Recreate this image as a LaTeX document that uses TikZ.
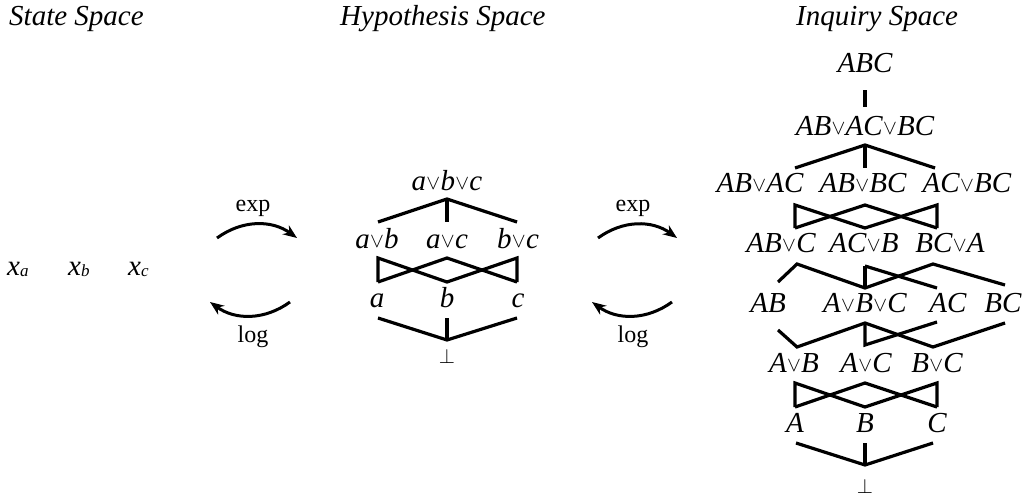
\documentclass[tikz,border=0pt]{standalone}
\usepackage{fontspec}
\setmainfont{Liberation Serif}
\usetikzlibrary{arrows.meta}
\newcommand{\orr}{\kern0.3pt\raisebox{0.5pt}{\fontsize{22}{22}\selectfont$\vee$}\kern0.3pt}
\newcommand{\subl}[1]{\raisebox{-1pt}{\fontsize{17}{17}\selectfont\itshape #1}}
\newcommand{\botel}{{\fontsize{22}{22}\selectfont$\bot$}}

\begin{document}
\begin{tikzpicture}[x=1pt,y=-1pt,>={Stealth[length=14pt,width=11pt]},
  title/.style={anchor=base west,font=\fontsize{29}{34}\selectfont\itshape,inner sep=0pt},
  lbl/.style={anchor=base,font=\fontsize{29}{34}\selectfont\itshape,inner sep=0pt},
  op/.style={anchor=base,font=\fontsize{24}{28}\selectfont,inner sep=0pt},
  lnk/.style={line width=3.2pt,line join=miter},
  arr/.style={line width=3pt,->}]
\useasboundingbox (0,0) rectangle (1028,498);

% titles
\node[title] (tstate) at (9,25) {State Space};
\node[title] (thyp) at (340,25) {Hypothesis Space};
\node[title] (tinq) at (796,25) {Inquiry Space};

% state space
\node[title] (xa) at (7,275) {x\subl{a}};
\node[title] (xb) at (68,275) {x\subl{b}};
\node[title] (xc) at (128,275) {x\subl{c}};

% exp / log arrows
\coordinate (le1) at (217,238); \coordinate (le2) at (297,238);
\coordinate (ll1) at (290,302); \coordinate (ll2) at (210,302);
\coordinate (re1) at (598,238); \coordinate (re2) at (677,238);
\coordinate (rl1) at (672,302); \coordinate (rl2) at (592,302);
\node[op] (lexp) at (253,211) {exp};
\node[op] (llog) at (253,342) {log};
\node[op] (rexp) at (633,211) {exp};
\node[op] (rlog) at (633,342) {log};
\draw[arr] (le1) to[bend left=36] (le2);
\draw[arr] (ll1) to[bend left=36] (ll2);
\draw[arr] (re1) to[bend left=36] (re2);
\draw[arr] (rl1) to[bend left=36] (rl2);

% hypothesis space
\node[lbl] (habc) at (447,190) {a\orr b\orr c};
\node[lbl] (hab) at (377,248) {a\orr b};
\node[lbl] (hac) at (447,248) {a\orr c};
\node[lbl] (hbc) at (518,248) {b\orr c};
\node[lbl] (ha) at (377,307) {a};
\node[lbl] (hb) at (447,307) {b};
\node[lbl] (hc) at (518,307) {c};
\node[lbl] (hbot) at (447,363) {\botel};
\coordinate (habc-b) at (447,199);
\coordinate (hab-t) at (378,222); \coordinate (hac-t) at (447,222); \coordinate (hbc-t) at (517,222);
\coordinate (hab-b) at (378,258); \coordinate (hac-b) at (447,258); \coordinate (hbc-b) at (517,258);
\coordinate (ha-t) at (378,282); \coordinate (hb-t) at (447,282); \coordinate (hc-t) at (517,282);
\coordinate (ha-b) at (378,318); \coordinate (hb-b) at (447,318); \coordinate (hc-b) at (517,318);
\coordinate (hbot-t) at (447,340);
\draw[lnk] (hab-t)--(habc-b)--(hbc-t); \draw[lnk] (habc-b)--(hac-t);
\draw[lnk] (ha-t)--(hab-b)--(hb-t)--(hbc-b)--(hc-t); \draw[lnk] (ha-t)--(hac-b)--(hc-t);
\draw[lnk] (ha-b)--(hbot-t)--(hc-b); \draw[lnk] (hb-b)--(hbot-t);

% inquiry space
\node[lbl] (iABC) at (865,72) {ABC};
\node[lbl] (i1) at (865,135) {AB\orr AC\orr BC};
\node[lbl] (i2a) at (760,192) {AB\orr AC};
\node[lbl] (i2b) at (863,192) {AB\orr BC};
\node[lbl] (i2c) at (967,192) {AC\orr BC};
\node[lbl] (i3a) at (781,252) {AB\orr C};
\node[lbl] (i3b) at (864,252) {AC\orr B};
\node[lbl] (i3c) at (950,252) {BC\orr A};
\node[lbl] (i4a) at (768,312) {AB};
\node[lbl] (i4b) at (865,312) {A\orr B\orr C};
\node[lbl] (i4c) at (948,312) {AC};
\node[lbl] (i4d) at (1003,312) {BC};
\node[lbl] (i5a) at (794,372) {A\orr B};
\node[lbl] (i5b) at (866,372) {A\orr C};
\node[lbl] (i5c) at (937,372) {B\orr C};
\node[lbl] (i6a) at (795,432) {A};
\node[lbl] (i6b) at (865,432) {B};
\node[lbl] (i6c) at (937,432) {C};
\node[lbl] (ibot) at (865,493) {\botel};
\coordinate (iABC-b) at (865,90); \coordinate (i1-t) at (865,107); \coordinate (i1-b) at (865,145);
\coordinate (i2a-t) at (795,168); \coordinate (i2b-t) at (865,168); \coordinate (i2c-t) at (935,168);
\coordinate (i2a-b) at (795,205); \coordinate (i2b-b) at (865,205); \coordinate (i2c-b) at (937,205);
\coordinate (i3a-t) at (795,228); \coordinate (i3b-t) at (865,228); \coordinate (i3c-t) at (937,228);
\coordinate (i3a-b) at (797,264); \coordinate (i3b-b) at (865,266); \coordinate (i3c-b) at (933,264);
\coordinate (i4a-t) at (778,282); \coordinate (i4b-t) at (865,288); \coordinate (i4c-t) at (937,288); \coordinate (i4d-t) at (1005,285);
\coordinate (i4a-b) at (778,330); \coordinate (i4b-b) at (865,323); \coordinate (i4c-b) at (937,322); \coordinate (i4d-b) at (1005,323);
\coordinate (i5a-t) at (797,347); \coordinate (i5b-t) at (865,345); \coordinate (i5c-t) at (933,347);
\coordinate (i5a-b) at (795,383); \coordinate (i5b-b) at (865,383); \coordinate (i5c-b) at (937,383);
\coordinate (i6a-t) at (795,407); \coordinate (i6b-t) at (865,407); \coordinate (i6c-t) at (937,407);
\coordinate (i6a-b) at (796,443); \coordinate (i6b-b) at (865,443); \coordinate (i6c-b) at (933,443);
\coordinate (ibot-t) at (865,465);
\draw[lnk] (iABC-b)--(i1-t);
\draw[lnk] (i2a-t)--(i1-b)--(i2c-t); \draw[lnk] (i1-b)--(i2b-t);
\draw[lnk] (i3a-t)--(i2a-b)--(i3b-t)--(i2c-b)--(i3c-t); \draw[lnk] (i3a-t)--(i2b-b)--(i3c-t);
\draw[lnk] (i4a-t)--(i3a-b)--(i4b-t)--(i3c-b)--(i4d-t); \draw[lnk] (i3b-b)--(i4b-t); \draw[lnk] (i3b-b)--(i4c-t);
\draw[lnk] (i4a-b)--(i5a-t)--(i4b-b)--(i5c-t)--(i4d-b); \draw[lnk] (i4b-b)--(i5b-t)--(i4c-b);
\draw[lnk] (i6a-t)--(i5a-b)--(i6b-t)--(i5c-b)--(i6c-t); \draw[lnk] (i6a-t)--(i5b-b)--(i6c-t);
\draw[lnk] (i6a-b)--(ibot-t)--(i6c-b); \draw[lnk] (i6b-b)--(ibot-t);
\end{tikzpicture}
\end{document}
